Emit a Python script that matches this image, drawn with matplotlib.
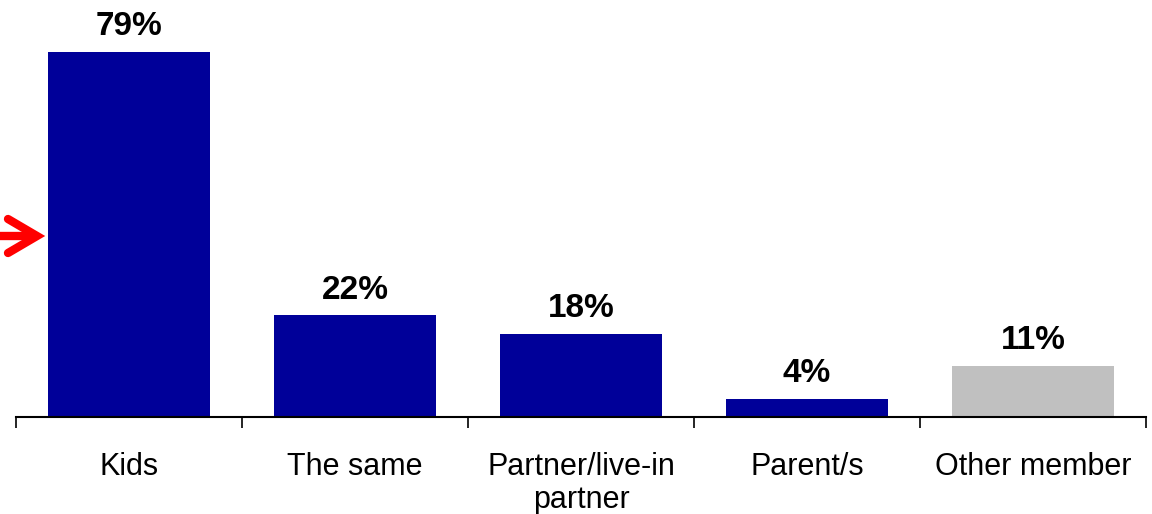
import matplotlib
matplotlib.use("Agg")
import matplotlib.pyplot as plt
from matplotlib.lines import Line2D
from matplotlib.ticker import FixedLocator

categories = ["Kids", "The same", "Partner/live-in\npartner", "Parent/s", "Other member"]
values = [79, 22, 18, 4, 11]
colors = ["#000099", "#000099", "#000099", "#000099", "#C0C0C0"]

plt.rcParams['font.family'] = ['Liberation Sans', 'DejaVu Sans']

W, H = 1152, 514
fig = plt.figure(figsize=(W/100, H/100), dpi=100)
ax = fig.add_axes([16/W, (H-417)/H, (1146-16)/W, 417/H])

x = list(range(len(categories)))
ax.bar(x, values, width=0.72, color=colors)
for xi, v in zip(x, values):
    ax.annotate(f"{v}%", (xi, v), xytext=(0, 7), textcoords="offset points",
                ha="center", va="bottom", fontsize=24, fontweight="bold")

ax.set_xlim(-0.5, len(categories) - 0.5)
ax.set_ylim(0, 417/4.62)
for s in ["left", "right", "top"]:
    ax.spines[s].set_visible(False)
ax.spines["bottom"].set_linewidth(1.5)
ax.set_yticks([])
ax.set_xticks(x)
ax.set_xticklabels(categories, fontsize=22, linespacing=1.15)
ax.tick_params(axis="x", which="major", length=0, pad=25)
ax.xaxis.set_minor_locator(FixedLocator([i - 0.5 for i in range(len(categories) + 1)]))
ax.tick_params(axis="x", which="minor", length=8, width=1.2, direction="out")

# red arrow marker at left edge
tip = (37, 236)
def fp(px, py):
    return (px / W, (H - py) / H)
arrow_kw = dict(color="#FF0000", linewidth=6, solid_capstyle="round", transform=fig.transFigure)
fig.add_artist(Line2D([fp(0, 236)[0], fp(tip[0] - 2, 236)[0]], [fp(0, 236)[1]] * 2, **arrow_kw))
fig.add_artist(Line2D([fp(8, 219)[0], fp(*tip)[0], fp(8, 253)[0]],
                      [fp(8, 219)[1], fp(*tip)[1], fp(8, 253)[1]],
                      solid_joinstyle="miter", **arrow_kw))

fig.savefig("out.png", dpi=100)
